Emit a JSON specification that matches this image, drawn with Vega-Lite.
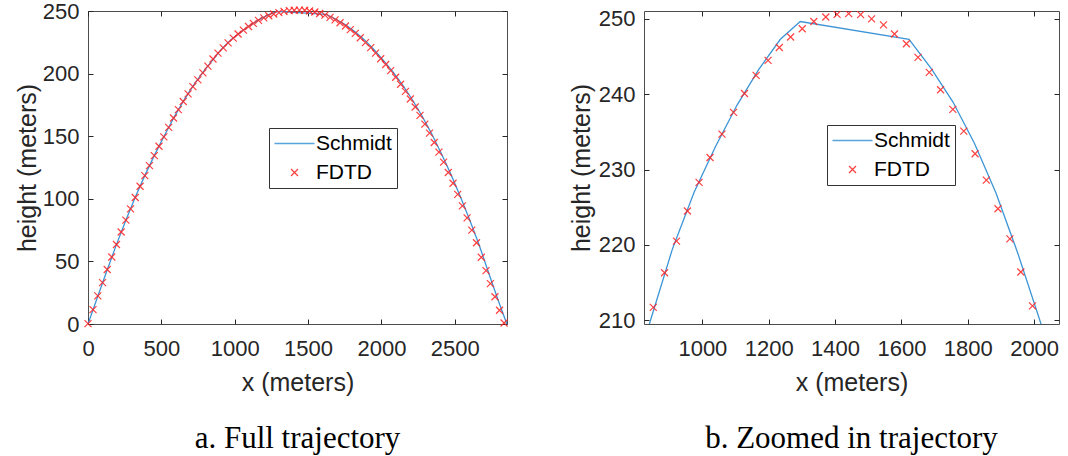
{
  "$schema": "https://vega.github.io/schema/vega-lite/v6.json",
  "background": "white",
  "padding": {"left": 14, "top": -1, "right": 5, "bottom": 5},
  "config": {
    "view": {"stroke": "#4d4d4d", "strokeWidth": 1},
    "axis": {"grid": false, "domain": false, "tickColor": "#262626", "tickSize": -5, "labelFont": "Liberation Sans", "labelFontSize": 22, "labelColor": "#262626", "titleFont": "Liberation Sans", "titleFontSize": 25, "titleFontWeight": "normal", "titleColor": "#262626", "labelFlush": false, "labelOverlap": false, "format": "d"},
    "legend": {"orient": "none", "title": null, "symbolSize": 100, "symbolOffset": 10, "labelOffset": 11, "symbolStrokeWidth": 1.3, "labelFont": "Liberation Sans", "labelFontSize": 21, "labelColor": "#000000", "strokeColor": "#333333", "fillColor": "white", "padding": 5, "rowPadding": 7},
    "title": {"font": "Liberation Serif", "fontSize": 31, "fontWeight": "normal", "color": "#000000", "orient": "bottom", "anchor": "middle", "offset": 29}
  },
  "datasets": {
    "schmidt": [
      {"x": 0, "y": 0, "series": "Schmidt"}, {"x": 65, "y": 21.5, "series": "Schmidt"}, {"x": 130, "y": 43, "series": "Schmidt"}, {"x": 195, "y": 63.8, "series": "Schmidt"}, {"x": 260, "y": 83.5, "series": "Schmidt"}, {"x": 325, "y": 102, "series": "Schmidt"}, {"x": 390, "y": 119.3, "series": "Schmidt"}, {"x": 455, "y": 135.3, "series": "Schmidt"}, {"x": 520, "y": 150.3, "series": "Schmidt"}, {"x": 585, "y": 164.8, "series": "Schmidt"}, {"x": 650, "y": 178, "series": "Schmidt"}, {"x": 715, "y": 190, "series": "Schmidt"}, {"x": 780, "y": 200.6, "series": "Schmidt"}, {"x": 845, "y": 210.2, "series": "Schmidt"}, {"x": 910, "y": 219.5, "series": "Schmidt"}, {"x": 975, "y": 227.0, "series": "Schmidt"}, {"x": 1040, "y": 233.1, "series": "Schmidt"}, {"x": 1105, "y": 238.6, "series": "Schmidt"}, {"x": 1170, "y": 243.3, "series": "Schmidt"}, {"x": 1235, "y": 247.3, "series": "Schmidt"}, {"x": 1295, "y": 249.65, "series": "Schmidt"}, {"x": 1623, "y": 247.3, "series": "Schmidt"}, {"x": 1690, "y": 243.4, "series": "Schmidt"}, {"x": 1755, "y": 239.0, "series": "Schmidt"}, {"x": 1820, "y": 233.5, "series": "Schmidt"}, {"x": 1885, "y": 226.9, "series": "Schmidt"}, {"x": 1950, "y": 219.0, "series": "Schmidt"}, {"x": 2015, "y": 210.3, "series": "Schmidt"}, {"x": 2080, "y": 201.2, "series": "Schmidt"}, {"x": 2145, "y": 190.8, "series": "Schmidt"}, {"x": 2210, "y": 179.3, "series": "Schmidt"}, {"x": 2275, "y": 166.5, "series": "Schmidt"}, {"x": 2340, "y": 152.5, "series": "Schmidt"}, {"x": 2405, "y": 137.0, "series": "Schmidt"}, {"x": 2470, "y": 120.5, "series": "Schmidt"}, {"x": 2535, "y": 102.7, "series": "Schmidt"}, {"x": 2600, "y": 83.7, "series": "Schmidt"}, {"x": 2665, "y": 63.5, "series": "Schmidt"}, {"x": 2730, "y": 41.2, "series": "Schmidt"}, {"x": 2795, "y": 19.2, "series": "Schmidt"}, {"x": 2855, "y": 0, "series": "Schmidt"}
    ],
    "fdtd": [
      {"x": 0, "y": 0.3, "series": "FDTD"}, {"x": 34, "y": 11.5, "series": "FDTD"}, {"x": 67, "y": 22.5, "series": "FDTD"}, {"x": 99, "y": 33, "series": "FDTD"}, {"x": 131, "y": 43.5, "series": "FDTD"}, {"x": 162, "y": 53.5, "series": "FDTD"}, {"x": 194, "y": 63.5, "series": "FDTD"}, {"x": 226, "y": 73.5, "series": "FDTD"}, {"x": 258, "y": 83, "series": "FDTD"}, {"x": 290, "y": 92, "series": "FDTD"}, {"x": 322, "y": 101, "series": "FDTD"}, {"x": 355, "y": 110, "series": "FDTD"}, {"x": 387, "y": 118.5, "series": "FDTD"}, {"x": 419, "y": 126.5, "series": "FDTD"}, {"x": 452, "y": 134.5, "series": "FDTD"}, {"x": 484, "y": 142, "series": "FDTD"}, {"x": 517, "y": 149.5, "series": "FDTD"}, {"x": 550, "y": 157, "series": "FDTD"}, {"x": 583, "y": 164.5, "series": "FDTD"}, {"x": 616, "y": 171.2, "series": "FDTD"}, {"x": 649, "y": 177.7, "series": "FDTD"}, {"x": 682, "y": 183.8, "series": "FDTD"}, {"x": 715, "y": 189.6, "series": "FDTD"}, {"x": 749, "y": 195.0, "series": "FDTD"}, {"x": 783, "y": 200.6, "series": "FDTD"}, {"x": 817, "y": 206.0, "series": "FDTD"},
      {"x": 852, "y": 211.7, "series": "FDTD"}, {"x": 886, "y": 216.3, "series": "FDTD"}, {"x": 922, "y": 220.5, "series": "FDTD"}, {"x": 955, "y": 224.5, "series": "FDTD"}, {"x": 990, "y": 228.3, "series": "FDTD"}, {"x": 1023, "y": 231.6, "series": "FDTD"}, {"x": 1059, "y": 234.7, "series": "FDTD"}, {"x": 1094, "y": 237.6, "series": "FDTD"}, {"x": 1127, "y": 240.1, "series": "FDTD"}, {"x": 1162, "y": 242.5, "series": "FDTD"}, {"x": 1198, "y": 244.5, "series": "FDTD"}, {"x": 1232, "y": 246.2, "series": "FDTD"}, {"x": 1266, "y": 247.6, "series": "FDTD"}, {"x": 1301, "y": 248.7, "series": "FDTD"}, {"x": 1336, "y": 249.65, "series": "FDTD"}, {"x": 1372, "y": 250.26, "series": "FDTD"}, {"x": 1406, "y": 250.6, "series": "FDTD"}, {"x": 1441, "y": 250.7, "series": "FDTD"}, {"x": 1477, "y": 250.57, "series": "FDTD"}, {"x": 1510, "y": 250.0, "series": "FDTD"}, {"x": 1546, "y": 249.2, "series": "FDTD"}, {"x": 1579, "y": 248.0, "series": "FDTD"}, {"x": 1615, "y": 246.7, "series": "FDTD"}, {"x": 1650, "y": 244.9, "series": "FDTD"}, {"x": 1684, "y": 242.9, "series": "FDTD"}, {"x": 1718, "y": 240.6, "series": "FDTD"}, {"x": 1755, "y": 238.0, "series": "FDTD"}, {"x": 1788, "y": 235.1, "series": "FDTD"}, {"x": 1822, "y": 232.1, "series": "FDTD"}, {"x": 1856, "y": 228.6, "series": "FDTD"}, {"x": 1891, "y": 224.8, "series": "FDTD"}, {"x": 1927, "y": 220.8, "series": "FDTD"}, {"x": 1960, "y": 216.4, "series": "FDTD"}, {"x": 1995, "y": 211.9, "series": "FDTD"},
      {"x": 2029, "y": 207.3, "series": "FDTD"}, {"x": 2063, "y": 202.4, "series": "FDTD"}, {"x": 2097, "y": 197.1, "series": "FDTD"}, {"x": 2131, "y": 191.5, "series": "FDTD"}, {"x": 2164, "y": 185.8, "series": "FDTD"}, {"x": 2197, "y": 179.7, "series": "FDTD"}, {"x": 2230, "y": 173.3, "series": "FDTD"}, {"x": 2263, "y": 166.6, "series": "FDTD"}, {"x": 2296, "y": 159.6, "series": "FDTD"}, {"x": 2328, "y": 152.5, "series": "FDTD"}, {"x": 2360, "y": 145.0, "series": "FDTD"}, {"x": 2392, "y": 137.3, "series": "FDTD"}, {"x": 2424, "y": 129.3, "series": "FDTD"}, {"x": 2456, "y": 121.0, "series": "FDTD"}, {"x": 2488, "y": 112.4, "series": "FDTD"}, {"x": 2520, "y": 103.5, "series": "FDTD"}, {"x": 2552, "y": 94.3, "series": "FDTD"}, {"x": 2584, "y": 84.8, "series": "FDTD"}, {"x": 2616, "y": 75.0, "series": "FDTD"}, {"x": 2648, "y": 64.9, "series": "FDTD"}, {"x": 2681, "y": 53.3, "series": "FDTD"}, {"x": 2713, "y": 42.6, "series": "FDTD"}, {"x": 2743, "y": 32.2, "series": "FDTD"}, {"x": 2774, "y": 21.8, "series": "FDTD"}, {"x": 2805, "y": 11.0, "series": "FDTD"}, {"x": 2836, "y": 0.8, "series": "FDTD"}
    ]
  },
  "spacing": 57,
  "resolve": {
    "scale": {"x": "independent", "y": "independent", "color": "independent", "shape": "independent"},
    "legend": {"color": "independent", "shape": "independent"}
  },
  "hconcat": [
    {
      "width": 419,
      "height": 313,
      "title": {"text": "a. Full trajectory"},
      "resolve": {"axis": {"x": "independent", "y": "independent"}},
      "layer": [
        {
          "data": {"name": "schmidt"},
          "mark": {"type": "line", "strokeWidth": 1.3},
          "encoding": {
            "x": {"field": "x", "type": "quantitative", "scale": {"domain": [0, 2856], "nice": false, "zero": false}, "axis": {"values": [0, 500, 1000, 1500, 2000, 2500], "title": "x (meters)", "labelPadding": 19, "titlePadding": 11}},
            "y": {"field": "y", "type": "quantitative", "scale": {"domain": [0, 250], "nice": false, "zero": false}, "axis": {"values": [0, 50, 100, 150, 200, 250], "title": "height (meters)", "labelPadding": 14, "titlePadding": 2}},
            "color": {"field": "series", "type": "nominal", "scale": {"domain": ["Schmidt", "FDTD"], "range": ["#3d95d6", "#ff2020"]}, "legend": {"legendX": 181, "legendY": 117}}
          }
        },
        {
          "data": {"name": "fdtd"},
          "mark": {"type": "point", "filled": false, "size": 100, "strokeWidth": 1.2, "opacity": 0.85},
          "encoding": {
            "x": {"field": "x", "type": "quantitative", "scale": {"domain": [0, 2856], "nice": false, "zero": false}, "axis": {"orient": "top", "labels": false, "title": null, "values": [0, 500, 1000, 1500, 2000, 2500]}},
            "y": {"field": "y", "type": "quantitative", "scale": {"domain": [0, 250], "nice": false, "zero": false}, "axis": {"orient": "right", "labels": false, "title": null, "values": [0, 50, 100, 150, 200, 250]}},
            "color": {"field": "series", "type": "nominal", "scale": {"domain": ["Schmidt", "FDTD"], "range": ["#3d95d6", "#ff2020"]}, "legend": {"legendX": 181, "legendY": 117}},
            "shape": {"field": "series", "type": "nominal", "scale": {"domain": ["Schmidt", "FDTD"], "range": ["M-4,0L4,0", "M-0.7,-0.7L0.7,0.7M-0.7,0.7L0.7,-0.7"]}, "legend": {"legendX": 181, "legendY": 117}}
          }
        }
      ]
    },
    {
      "width": 415,
      "height": 313,
      "title": {"text": "b. Zoomed in trajectory"},
      "resolve": {"axis": {"x": "independent", "y": "independent"}},
      "layer": [
        {
          "data": {"name": "schmidt"},
          "mark": {"type": "line", "strokeWidth": 1.3, "clip": true},
          "encoding": {
            "x": {"field": "x", "type": "quantitative", "scale": {"domain": [824, 2075], "nice": false, "zero": false}, "axis": {"values": [1000, 1200, 1400, 1600, 1800, 2000], "title": "x (meters)", "labelPadding": 19, "titlePadding": 11}},
            "y": {"field": "y", "type": "quantitative", "scale": {"domain": [209.5, 251.05], "nice": false, "zero": false}, "axis": {"values": [210, 220, 230, 240, 250], "title": "height (meters)", "labelPadding": 14, "titlePadding": 4}},
            "color": {"field": "series", "type": "nominal", "scale": {"domain": ["Schmidt", "FDTD"], "range": ["#3d95d6", "#ff2020"]}, "legend": {"legendX": 183, "legendY": 114}}
          }
        },
        {
          "data": {"name": "fdtd"},
          "mark": {"type": "point", "filled": false, "size": 100, "strokeWidth": 1.2, "opacity": 0.85, "clip": true},
          "encoding": {
            "x": {"field": "x", "type": "quantitative", "scale": {"domain": [824, 2075], "nice": false, "zero": false}, "axis": {"orient": "top", "labels": false, "title": null, "values": [1000, 1200, 1400, 1600, 1800, 2000]}},
            "y": {"field": "y", "type": "quantitative", "scale": {"domain": [209.5, 251.05], "nice": false, "zero": false}, "axis": {"orient": "right", "labels": false, "title": null, "values": [210, 220, 230, 240, 250]}},
            "color": {"field": "series", "type": "nominal", "scale": {"domain": ["Schmidt", "FDTD"], "range": ["#3d95d6", "#ff2020"]}, "legend": {"legendX": 183, "legendY": 114}},
            "shape": {"field": "series", "type": "nominal", "scale": {"domain": ["Schmidt", "FDTD"], "range": ["M-4,0L4,0", "M-0.7,-0.7L0.7,0.7M-0.7,0.7L0.7,-0.7"]}, "legend": {"legendX": 183, "legendY": 114}}
          }
        }
      ]
    }
  ]
}
